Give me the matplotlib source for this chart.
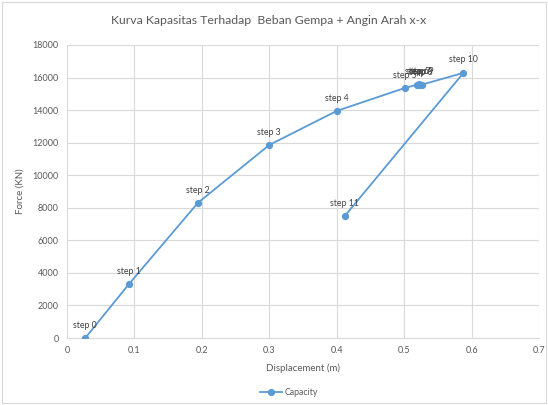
import matplotlib
matplotlib.use("Agg")
import matplotlib.pyplot as plt
from matplotlib.patches import Rectangle

plt.rcParams['font.family'] = ['Lato', 'DejaVu Sans']

# capacity curve data
displacement = [0.027, 0.092, 0.194, 0.300, 0.400, 0.501, 0.519, 0.522, 0.524, 0.526, 0.588, 0.412]
force = [0, 3320, 8300, 11860, 13950, 15360, 15560, 15590, 15540, 15560, 16290, 7500]
labels = ["step 0", "step 1", "step 2", "step 3", "step 4", "step 5",
          "step 6", "step 7", "step 8", "step 9", "step 10", "step 11"]

x_ticks = [0, 0.1, 0.2, 0.3, 0.4, 0.5, 0.6, 0.7]
x_ticklabels = ["0", "0.1", "0.2", "0.3", "0.4", "0.5", "0.6", "0.7"]
y_ticks = list(range(0, 18001, 2000))

blue = "#5B9BD5"
gray = "#595959"

fig = plt.figure(figsize=(5.48, 4.05), dpi=100)
fig.patches.append(Rectangle((0.004, 0.004), 0.992, 0.99, transform=fig.transFigure,
                             fill=False, edgecolor="#D9D9D9", linewidth=0.8))
ax = fig.add_axes([0.1223, 0.1654, 0.8613, 0.7235])

ax.plot(displacement, force, color=blue, linewidth=1.3, marker="o", markersize=4.2,
        label="Capacity", zorder=3)
for x, y, s in zip(displacement, force, labels):
    ax.annotate(s, (x, y), xytext=(0, 6), textcoords="offset points",
                ha="center", va="bottom", fontsize=6.3, color="#404040")

ax.set_xlim(0, 0.7)
ax.set_ylim(0, 18000)
ax.set_xticks(x_ticks)
ax.set_xticklabels(x_ticklabels)
ax.set_yticks(y_ticks)
ax.grid(True, color="#D9D9D9", linewidth=0.8)
ax.set_axisbelow(True)
for side in ["top", "right", "left"]:
    ax.spines[side].set_visible(False)
ax.spines["bottom"].set_color("#D9D9D9")
ax.tick_params(length=0, labelsize=6.5, labelcolor=gray, pad=6)

ax.set_xlabel("Displacement (m)", fontsize=7, color=gray, labelpad=6)
ax.set_ylabel("Force (KN)", fontsize=7, color=gray, labelpad=6)
fig.text(0.49, 0.95, "Kurva Kapasitas Terhadap  Beban Gempa + Angin Arah x-x",
         ha="center", va="center", fontsize=8.8, color=gray)

ax.legend(loc="upper center", bbox_to_anchor=(0.47, -0.145), frameon=False,
          fontsize=6.3, labelcolor=gray, handlelength=2.5, handletextpad=0.3)

fig.savefig("out.png", dpi=100)
